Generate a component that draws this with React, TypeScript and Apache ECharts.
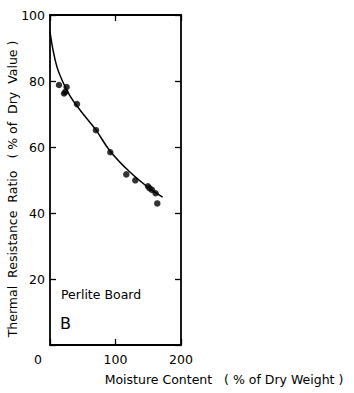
import React, { useEffect, useRef } from "react";
import * as echarts from "echarts";

const pointX = [13.7, 21.4, 23.4, 25.4, 41.2, 70.2, 92.1, 116.5, 130.2, 149.6, 152, 155.7, 161.3, 163.8];
const pointY = [78.8, 76.2, 76.7, 78.2, 73.0, 65.1, 58.4, 51.7, 49.9, 48.1, 47.5, 47.0, 46.0, 42.9];

const curveX = [0, 4.6, 10.7, 18.3, 30.5, 45.8, 70, 91.6, 122, 152.7, 172];
const curveY = [95, 89.4, 84.2, 80.3, 75.5, 71.2, 65.2, 58.8, 52.4, 47.3, 44.8];

const xTicks = [0, 100, 200];
const yTicks = [20, 40, 60, 80, 100];

const FONT = "DejaVu Sans";

export default function App() {
  const ref = useRef<HTMLDivElement>(null);
  useEffect(() => {
    if (!ref.current) return;
    const chart = echarts.init(ref.current, undefined, { renderer: "svg" });
    const axisLine = { show: true, onZero: false, lineStyle: { color: "#000", width: 1.8 } };
    const tick = { show: true, inside: true, length: 6, lineStyle: { color: "#000", width: 1.3 } };
    chart.setOption({
      animation: false,
      backgroundColor: "#fff",
      grid: { left: 50, right: 173, top: 15, bottom: 48 },
      xAxis: [
        {
          type: "value",
          min: 0,
          max: 200,
          interval: 100,
          position: "bottom",
          axisLine,
          axisTick: tick,
          splitLine: { show: false },
          axisLabel: {
            margin: 8,
            color: "#000",
            fontFamily: FONT,
            fontSize: 12.5,
            formatter: (v: number) => (xTicks.includes(v) ? (v === 0 ? "{z|0}" : String(v)) : ""),
            rich: { z: { padding: [0, 24, 0, 0], fontFamily: FONT, fontSize: 12.5, color: "#000" } },
          },
        },
        {
          type: "value",
          min: 0,
          max: 200,
          interval: 100,
          position: "top",
          axisLine,
          axisTick: tick,
          axisLabel: { show: false },
          splitLine: { show: false },
        },
      ],
      yAxis: [
        {
          type: "value",
          min: 0,
          max: 100,
          interval: 20,
          position: "left",
          axisLine,
          axisTick: tick,
          splitLine: { show: false },
          axisLabel: {
            margin: 5,
            color: "#000",
            fontFamily: FONT,
            fontSize: 12.5,
            formatter: (v: number) => (yTicks.includes(v) ? String(v) : ""),
          },
        },
        {
          type: "value",
          min: 0,
          max: 100,
          interval: 20,
          position: "right",
          axisLine,
          axisTick: tick,
          axisLabel: { show: false },
          splitLine: { show: false },
        },
      ],
      series: [
        {
          type: "line",
          data: curveX.map((x, i) => [x, curveY[i]]),
          smooth: 0.4,
          showSymbol: false,
          lineStyle: { color: "#000", width: 1.5 },
          z: 2,
        },
        {
          type: "scatter",
          data: pointX.map((x, i) => [x, pointY[i]]),
          symbol: "circle",
          symbolSize: 6.5,
          itemStyle: { color: "#000" },
          z: 3,
        },
      ],
      graphic: [
        {
          type: "text",
          x: 12,
          y: 189,
          rotation: Math.PI / 2,
          style: {
            text: "Thermal  Resistance  Ratio   ( % of  Dry  Value )",
            fontFamily: FONT,
            fontSize: 12.5,
            fill: "#000",
            align: "center",
            verticalAlign: "middle",
          },
        },
        {
          type: "text",
          x: 224,
          y: 379,
          style: {
            text: "Moisture Content   ( % of Dry Weight )",
            fontFamily: FONT,
            fontSize: 12.5,
            fill: "#000",
            align: "center",
            verticalAlign: "middle",
          },
        },
        {
          type: "text",
          x: 61,
          y: 294,
          style: {
            text: "Perlite Board",
            fontFamily: FONT,
            fontSize: 12.5,
            fill: "#000",
            align: "left",
            verticalAlign: "middle",
          },
        },
        {
          type: "text",
          x: 60,
          y: 323,
          style: {
            text: "B",
            fontFamily: FONT,
            fontSize: 16,
            fill: "#000",
            align: "left",
            verticalAlign: "middle",
          },
        },
      ],
    });
    return () => chart.dispose();
  }, []);
  return <div ref={ref} style={{ width: 354, height: 393, position: "absolute", left: 0, top: 0 }} />;
}
